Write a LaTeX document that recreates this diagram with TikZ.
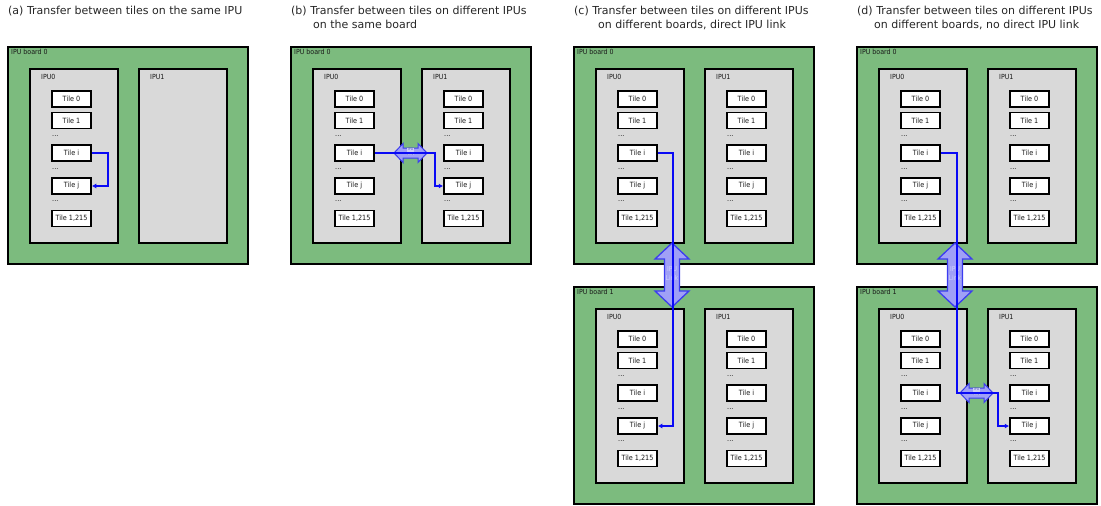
\documentclass[tikz,border=0pt]{standalone}
\usepackage{fontspec}
\setmainfont[FakeStretch=0.9]{DejaVu Sans}
\newfontfamily\titlefont{DejaVu Sans}
\usetikzlibrary{arrows.meta,calc}
\definecolor{boardgreen}{RGB}{124,187,126}
\definecolor{ipugray}{RGB}{217,217,217}
\definecolor{linkfill}{RGB}{160,160,246}
\definecolor{linkedge}{RGB}{60,60,240}
\definecolor{linktext}{RGB}{205,205,255}
\definecolor{connblue}{RGB}{10,10,245}
\definecolor{labgray}{RGB}{25,25,25}

\newcommand{\mkboard}[4]{% name, x, y, label
  \node[boardbox] (#1) at (#2+120,#3+108.5) {};
  \node[boardlab] (#1-lab) at (#2+3,#3+4.5) {#4};
  \node[ipubox] (#1-ipu0) at (#2+66,#3+109) {};
  \node[ipubox] (#1-ipu1) at (#2+175,#3+109) {};
  \node[ipulab] (#1-ipu0-lab) at (#2+33,#3+30) {IPU0};
  \node[ipulab] (#1-ipu1-lab) at (#2+142,#3+30) {IPU1};
}
\newcommand{\mktiles}[3]{% prefix, tile left x, board top y
  \node[tilebox] (#1-t0) at (#2+19.5,#3+52) {Tile 0};
  \node[tilebox] (#1-t1) at (#2+19.5,#3+73.5) {Tile 1};
  \node[dotlab] (#1-d1) at (#2,#3+89) {...};
  \node[tilebox] (#1-ti) at (#2+19.5,#3+106) {Tile i};
  \node[dotlab] (#1-d2) at (#2,#3+122) {...};
  \node[tilebox] (#1-tj) at (#2+19.5,#3+139) {Tile j};
  \node[dotlab] (#1-d3) at (#2,#3+154) {...};
  \node[tilebox] (#1-tn) at (#2+19.5,#3+171.5) {Tile 1,215};
}
\newcommand{\vlink}[3]{% name, cx, cy
  \filldraw[linkshape] (#2,#3-32) -- (#2+17,#3-16) -- (#2+7.5,#3-16) -- (#2+7.5,#3+16)
    -- (#2+17,#3+16) -- (#2,#3+32) -- (#2-17,#3+16) -- (#2-7.5,#3+16)
    -- (#2-7.5,#3-16) -- (#2-17,#3-16) -- cycle;
  \node[vlinklab] (#1) at (#2,#3-1.5) {IPU\\Link};
}
\newcommand{\hlink}[3]{% name, cx, cy
  \filldraw[linkshape, line width=1pt] (#2-16.5,#3) -- (#2-7.5,#3-9.5) -- (#2-7.5,#3-5) -- (#2+7.5,#3-5)
    -- (#2+7.5,#3-9.5) -- (#2+16.5,#3) -- (#2+7.5,#3+9.5) -- (#2+7.5,#3+5)
    -- (#2-7.5,#3+5) -- (#2-7.5,#3+9.5) -- cycle;
  \node[hlinklab] (#1) at (#2,#3-1.5) {IPU\\Link};
}

\begin{document}
\begin{tikzpicture}[x=1pt,y=-1pt,
  boardbox/.style={draw=black, line width=1.3pt, fill=boardgreen, minimum width=240pt, minimum height=217pt, inner sep=0pt},
  ipubox/.style={draw=black, line width=1.4pt, fill=ipugray, minimum width=88pt, minimum height=174pt, inner sep=0pt},
  tilebox/.style={draw=black, line width=1.5pt, fill=white, minimum width=39pt, minimum height=16pt, inner sep=0pt, font=\fontsize{7.2}{8}\selectfont, text=labgray},
  dotlab/.style={anchor=base west, inner sep=0pt, font=\fontsize{7.2}{8}\selectfont, text=labgray},
  boardlab/.style={anchor=west, inner sep=0pt, font=\fontsize{7}{8}\selectfont, text=labgray},
  ipulab/.style={anchor=west, inner sep=0pt, font=\fontsize{7}{8}\selectfont, text=labgray},
  titlelab/.style={anchor=base west, inner sep=0pt, font=\titlefont\fontsize{11}{13.5}\selectfont, text=black!85},
  linkshape/.style={fill=linkfill, draw=linkedge, line width=1.3pt, line join=miter},
  vlinklab/.style={inner sep=0pt, align=center, font=\fontsize{6.8}{8.5}\selectfont, text=linktext},
  hlinklab/.style={inner sep=0.3pt, align=center, fill=linktext!80!ipugray, font=\fontsize{3.6}{4.4}\selectfont, text=linkedge!60!gray},
  connector/.style={draw=connblue, line width=1.6pt, line join=miter, -{Latex[length=4.5pt,width=5pt]}}
]
\useasboundingbox (0,0) rectangle (1101,506);

% titles
\node[titlelab] (ta) at (8,15) {(a) Transfer between tiles on the same IPU};
\node[titlelab] (tb) at (291,15) {(b) Transfer between tiles on different IPUs};
\node[titlelab] (tb2) at (313,28.5) {on the same board};
\node[titlelab] (tc) at (574,15) {(c) Transfer between tiles on different IPUs};
\node[titlelab] (tc2) at (598,28.5) {on different boards, direct IPU link};
\node[titlelab] (td) at (857,15) {(d) Transfer between tiles on different IPUs};
\node[titlelab] (td2) at (874,28.5) {on different boards, no direct IPU link};

% (a)
\mkboard{a0}{8}{47}{IPU board 0}
\mktiles{a0-ipu0}{52}{47}
% (b)
\mkboard{b0}{291}{47}{IPU board 0}
\mktiles{b0-ipu0}{335}{47}
\mktiles{b0-ipu1}{444}{47}
% (c)
\mkboard{c0}{574}{47}{IPU board 0}
\mktiles{c0-ipu0}{618}{47}
\mktiles{c0-ipu1}{727}{47}
\mkboard{c1}{574}{287}{IPU board 1}
\mktiles{c1-ipu0}{618}{287}
\mktiles{c1-ipu1}{727}{287}
% (d)
\mkboard{d0}{857}{47}{IPU board 0}
\mktiles{d0-ipu0}{901}{47}
\mktiles{d0-ipu1}{1010}{47}
\mkboard{d1}{857}{287}{IPU board 1}
\mktiles{d1-ipu0}{901}{287}
\mktiles{d1-ipu1}{1010}{287}

% IPU links
\hlink{b-link}{410.5}{153}
\vlink{c-link}{672}{275}
\vlink{d-link}{955}{275}
\hlink{d-link2}{976.5}{393}

% transfers
\draw[connector] (a0-ipu0-ti.east) -- ++(16,0) |- (a0-ipu0-tj.east);
\draw[connector] (b0-ipu0-ti.east) -- ++(60,0) |- (b0-ipu1-tj.west);
\draw[connector] (c0-ipu0-ti.east) -- ++(15,0) |- (c1-ipu0-tj.east);
\coordinate (d-turn) at ($(d1-ipu1-ti.west)+(-11,0)$);
\draw[connector] (d0-ipu0-ti.east) -- ++(16,0) |- (d-turn) |- (d1-ipu1-tj.west);
\end{tikzpicture}
\end{document}
